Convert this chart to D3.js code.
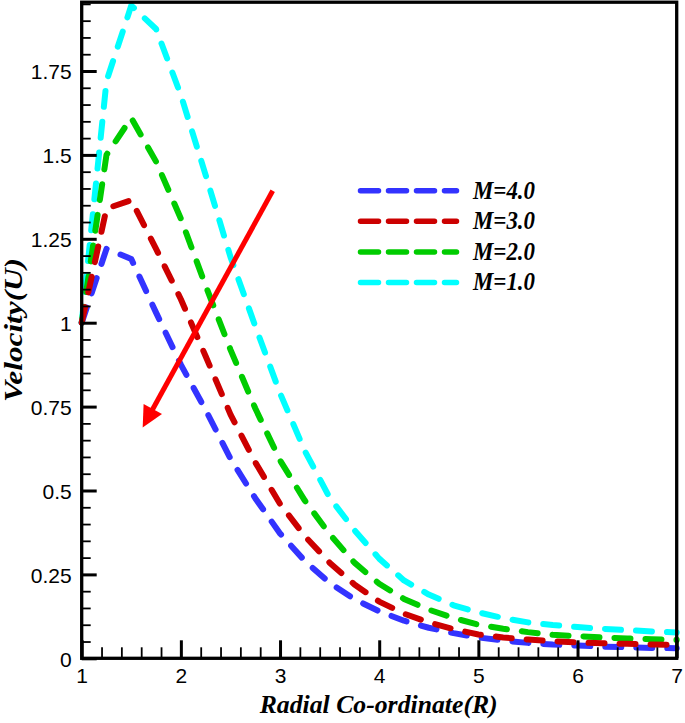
<!DOCTYPE html>
<html>
<head>
<meta charset="utf-8">
<script src="https://cdn.jsdelivr.net/npm/d3@7"></script>
<style>
  html, body { margin: 0; padding: 0; background: #fff; }
  svg { display: block; }
</style>
</head>
<body>
<svg id="chart" width="685" height="723"></svg>
<script>
// ---------------- data ----------------
const radius = [1, 1.25, 1.5, 1.75, 2, 2.25, 2.5, 2.75, 3, 3.25, 3.5, 3.75, 4, 4.25, 4.5, 4.75, 5, 5.25, 5.5, 5.75, 6, 6.25, 6.5, 6.75, 7];
const velM4 = [1.0, 1.22, 1.19, 1.03, 0.875, 0.74, 0.595, 0.477, 0.372, 0.29, 0.225, 0.176, 0.140, 0.112, 0.091, 0.075, 0.062, 0.053, 0.046, 0.041, 0.038, 0.035, 0.033, 0.031, 0.030];
const velM3 = [1.0, 1.34, 1.365, 1.22, 1.07, 0.90, 0.727, 0.584, 0.46, 0.364, 0.285, 0.22, 0.169, 0.133, 0.107, 0.087, 0.071, 0.062, 0.056, 0.051, 0.047, 0.045, 0.043, 0.041, 0.040];
const velM2 = [1.0, 1.50, 1.61, 1.48, 1.31, 1.11, 0.92, 0.745, 0.59, 0.47, 0.37, 0.285, 0.222, 0.177, 0.145, 0.12, 0.10, 0.088, 0.078, 0.07, 0.066, 0.062, 0.059, 0.057, 0.055];
const velM1 = [1.0, 1.72, 1.945, 1.875, 1.678, 1.44, 1.196, 0.99, 0.79, 0.618, 0.479, 0.382, 0.297, 0.232, 0.19, 0.158, 0.137, 0.12, 0.107, 0.099, 0.093, 0.088, 0.084, 0.080, 0.077];

const seriesNames = ["M=4.0", "M=3.0", "M=2.0", "M=1.0"];
const seriesValues = [velM4, velM3, velM2, velM1];
const seriesColors = ["#3333ff", "#cc0000", "#00cc00", "#00ffff"];
const drawOrder = [3, 2, 0, 1];

const xTickValues = [1, 2, 3, 4, 5, 6, 7];
const xTickLabels = ["1", "2", "3", "4", "5", "6", "7"];
const yTickValues = [0, 0.25, 0.5, 0.75, 1, 1.25, 1.5, 1.75];
const yTickLabels = ["0", "0.25", "0.5", "0.75", "1", "1.25", "1.5", "1.75"];

const xTitle = "Radial Co-ordinate(R)";
const yTitle = "Velocity(U)";

// arrow annotation (data coordinates): tail -> tip
const arrowTail = [2.926, 1.393];
const arrowTip = [1.615, 0.688];

// ---------------- layout ----------------
const svg = d3.select("#chart");
const plotL = 81.7, plotR = 676.7, plotT = 2.2, plotB = 658.3;

const x = d3.scaleLinear().domain([1, 7]).range([plotL, plotR]);
const y = d3.scaleLinear().domain([0, 1.955]).range([plotB, plotT]);

const tickFont = "'Liberation Sans', Arial, sans-serif";
const titleFont = "'Liberation Serif', 'Times New Roman', serif";

// minor ticks
const xMinor = d3.range(0, 31).map(i => 1 + i * 0.2).filter((v, i) => i % 5 !== 0);
const yMinor = d3.range(0, 40).map(i => i * 0.05).filter((v, i) => i % 5 !== 0);

// ---------------- curves ----------------
const line = d3.line().x(d => x(d[0])).y(d => y(d[1])).curve(d3.curveLinear);
const curves = svg.append("g");
drawOrder.forEach(k => {
  const pts = radius.map((r, i) => [r, seriesValues[k][i]]);
  curves.append("path")
    .attr("d", line(pts))
    .attr("fill", "none")
    .attr("stroke", seriesColors[k])
    .attr("stroke-width", 6)
    .attr("stroke-linecap", "round")
    .attr("stroke-linejoin", "round")
    .attr("stroke-dasharray", "16,15");
});

// ---------------- axes ----------------
const yAxisMajor = d3.axisLeft(y).tickValues(yTickValues)
  .tickFormat((d, i) => yTickLabels[i]).tickSize(-15).tickPadding(10);
const yAxisMinor = d3.axisLeft(y).tickValues(yMinor).tickFormat("").tickSize(-9);
const xAxisMajor = d3.axisBottom(x).tickValues(xTickValues)
  .tickFormat((d, i) => xTickLabels[i]).tickSize(-18).tickPadding(10);
const xAxisMinor = d3.axisBottom(x).tickValues(xMinor).tickFormat("").tickSize(-11);

function styleAxis(g, w) {
  g.select(".domain").remove();
  g.selectAll(".tick line").attr("stroke", "#000").attr("stroke-width", w);
  g.selectAll(".tick text").attr("fill", "#000")
    .style("font-family", tickFont).style("font-size", "21px");
}

svg.append("g").attr("transform", `translate(${plotL},0)`).call(yAxisMinor).call(g => styleAxis(g, 1.8));
svg.append("g").attr("transform", `translate(${plotL},0)`).call(yAxisMajor).call(g => styleAxis(g, 3))
  .call(g => g.selectAll(".tick text").attr("dy", "0.37em"));
svg.append("g").attr("transform", `translate(0,${plotB})`).call(xAxisMinor).call(g => styleAxis(g, 1.8));
svg.append("g").attr("transform", `translate(0,${plotB})`).call(xAxisMajor).call(g => styleAxis(g, 3));

// frame
svg.append("rect")
  .attr("x", plotL).attr("y", plotT)
  .attr("width", plotR - plotL).attr("height", plotB - plotT)
  .attr("fill", "none").attr("stroke", "#000").attr("stroke-width", 3.3);

// ---------------- titles ----------------
svg.append("text")
  .attr("x", (plotL + plotR) / 2 - 0.5).attr("y", 713)
  .attr("text-anchor", "middle")
  .attr("textLength", 238).attr("lengthAdjust", "spacingAndGlyphs")
  .style("font-family", titleFont).style("font-size", "26px")
  .style("font-weight", "bold").style("font-style", "italic")
  .text(xTitle);

svg.append("text")
  .attr("transform", "translate(22,330) rotate(-90)")
  .attr("text-anchor", "middle")
  .attr("textLength", 144).attr("lengthAdjust", "spacingAndGlyphs")
  .style("font-family", titleFont).style("font-size", "26px")
  .style("font-weight", "bold").style("font-style", "italic")
  .text(yTitle);

// ---------------- arrow ----------------
const tx = x(arrowTail[0]), ty = y(arrowTail[1]);
const hx = x(arrowTip[0]), hy = y(arrowTip[1]);
const len = Math.hypot(hx - tx, hy - ty);
const ux = (hx - tx) / len, uy = (hy - ty) / len;
const headLen = 21, headHalf = 10.5;
const bx = hx - ux * headLen, by = hy - uy * headLen;
svg.append("line")
  .attr("x1", tx).attr("y1", ty).attr("x2", bx + ux * 2).attr("y2", by + uy * 2)
  .attr("stroke", "#ff0000").attr("stroke-width", 5);
svg.append("path")
  .attr("d", `M${hx},${hy}L${bx - uy * headHalf},${by + ux * headHalf}L${bx + uy * headHalf},${by - ux * headHalf}Z`)
  .attr("fill", "#ff0000");

// ---------------- legend ----------------
const legend = svg.append("g");
seriesNames.forEach((name, i) => {
  const ly = 190.7 + i * 30.6;
  legend.append("line")
    .attr("x1", 360.5).attr("x2", 456.5).attr("y1", ly).attr("y2", ly)
    .attr("stroke", seriesColors[i]).attr("stroke-width", 5.5)
    .attr("stroke-linecap", "round").attr("stroke-dasharray", "18,10");
  legend.append("text")
    .attr("x", 473).attr("y", ly + 7.8)
    .attr("textLength", 62).attr("lengthAdjust", "spacingAndGlyphs")
    .style("font-family", titleFont).style("font-size", "25px")
    .style("font-weight", "bold").style("font-style", "italic")
    .text(name);
});
</script>
</body>
</html>
